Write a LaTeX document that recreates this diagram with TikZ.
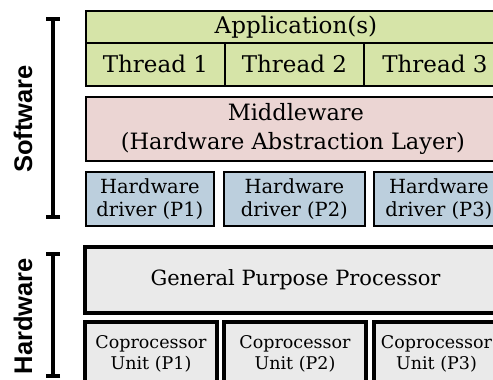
\documentclass[tikz,border=0pt]{standalone}
\usepackage{fontspec}
\setmainfont{DejaVu Serif}
\newfontfamily\sidefont{Liberation Sans}
\usetikzlibrary{arrows.meta}

\definecolor{appgreen}{RGB}{214,228,168}
\definecolor{mwpink}{RGB}{235,213,211}
\definecolor{drvblue}{RGB}{188,207,221}
\definecolor{hwgray}{RGB}{234,234,234}

\tikzset{
  swbox/.style={draw=black, line width=1.8pt, anchor=north west, inner sep=0pt, align=center},
  hwbox/.style={draw=black, line width=4pt, fill=hwgray, anchor=north west, inner sep=0pt, align=center},
  side/.style={rotate=90, font=\sidefont\bfseries\fontsize{25.5}{27}\selectfont},
  bracket/.style={line width=4pt, {Bar[width=14pt,line width=4pt]}-{Bar[width=14pt,line width=4pt]}}
}

\begin{document}
\begin{tikzpicture}[x=1pt, y=-1pt]
\useasboundingbox (0,0) rectangle (493,380);
\clip (0,0) rectangle (493,380);

\node[swbox, fill=appgreen, minimum width=420pt, minimum height=32pt, font=\fontsize{23}{28}\selectfont] (app) at (85,10) {Application(s)};
\node[swbox, fill=appgreen, minimum width=139pt, minimum height=43pt, font=\fontsize{23}{28}\selectfont] (thr1) at (85,42) {Thread 1};
\node[swbox, fill=appgreen, minimum width=139pt, minimum height=43pt, font=\fontsize{23}{28}\selectfont] (thr2) at (224,42) {Thread 2};
\node[swbox, fill=appgreen, minimum width=142pt, minimum height=43pt, font=\fontsize{23}{28}\selectfont] (thr3) at (363,42) {Thread 3};

\node[swbox, fill=mwpink, minimum width=420pt, minimum height=64pt, font=\fontsize{22.5}{29}\selectfont] (mw) at (85,96) {Middleware\\(Hardware Abstraction Layer)\hspace*{6pt}};

\node[swbox, fill=drvblue, minimum width=128pt, minimum height=54pt, font=\fontsize{19.5}{23}\selectfont] (drv1) at (85,171) {Hardware\\driver (P1)};
\node[swbox, fill=drvblue, minimum width=141pt, minimum height=54pt, font=\fontsize{19.5}{23}\selectfont] (drv2) at (223,171) {Hardware\\driver (P2)};
\node[swbox, fill=drvblue, minimum width=130pt, minimum height=54pt, font=\fontsize{19.5}{23}\selectfont] (drv3) at (373,171) {Hardware\\driver (P3)};

\node[hwbox, minimum width=425pt, minimum height=66pt, font=\fontsize{21}{26}\selectfont] (gpp) at (83,245) {General Purpose Processor\hspace*{4pt}};

\node[hwbox, minimum width=132pt, minimum height=64pt, font=\fontsize{17.5}{21}\selectfont] (cop1) at (83,320) {Coprocessor\\Unit (P1)};
\node[hwbox, minimum width=142pt, minimum height=64pt, font=\fontsize{17.5}{21}\selectfont] (cop2) at (222,320) {Coprocessor\\Unit (P2)};
\node[hwbox, minimum width=125pt, minimum height=64pt, font=\fontsize{17.5}{21}\selectfont] (cop3) at (372,320) {Coprocessor\\Unit (P3)};

\coordinate (swtop) at (53,17);
\coordinate (swbot) at (53,219);
\coordinate (hwtop) at (53,252);
\coordinate (hwbot) at (53,378);
\draw[bracket] (swtop) -- (swbot);
\draw[bracket] (hwtop) -- (hwbot);

\node[side] (swlabel) at (23,119) {Software};
\node[side] (hwlabel) at (23,316) {Hardware};
\end{tikzpicture}
\end{document}
